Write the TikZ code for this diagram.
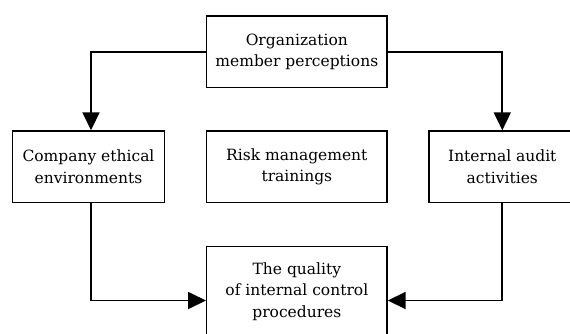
\documentclass[tikz,border=0pt]{standalone}
\usepackage{fontspec}
\setmainfont{DejaVu Serif}
\usetikzlibrary{arrows.meta}
\begin{document}
\begin{tikzpicture}[x=1pt,y=-1pt,
  box/.style={draw,line width=1.4pt,align=center,inner sep=0pt,
    font=\fontsize{15.5}{21.6}\selectfont},
  link/.style={line width=1.8pt,-{Triangle[length=18pt,width=17pt]}}]
  \useasboundingbox (0,0) rectangle (570,333);
  \fill[white] (0,0) rectangle (570,333);
  \clip (0,0) rectangle (570,333);

  % top level
  \node[box,minimum width=180.3pt,minimum height=71.5pt] (perc) at (296.85,51.75)
    {Organization\\member perceptions};

  % middle row
  \node[box,minimum width=151.6pt,minimum height=71.7pt] (ethic) at (88.5,166.85)
    {Company ethical\\environments};
  \node[box,minimum width=180.3pt,minimum height=71.7pt] (risk) at (296.85,166.85)
    {Risk management\\trainings};
  \node[box,minimum width=146.6pt,minimum height=71.7pt] (audit) at (502.3,166.85)
    {Internal audit\\activities};

  % outcome
  \node[box,minimum width=180.3pt,minimum height=90pt] (quality) at (296.85,291.5)
    {The quality\\of internal control\\procedures};

  % connectors
  \draw[link] (perc.west) -| ([xshift=2.5pt]ethic.north);
  \draw[link] (perc.east) -| (audit.north);
  \draw[link] ([xshift=2.5pt]ethic.south) |- ([yshift=-9pt]quality.west);
  \draw[link] (audit.south) |- ([yshift=-9pt]quality.east);
\end{tikzpicture}
\end{document}
